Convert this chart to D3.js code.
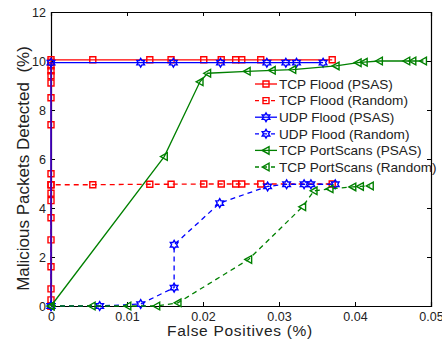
<!DOCTYPE html>
<html lang="en">
<head>
    <meta charset="UTF-8">
    <script src="https://d3js.org/d3.v7.min.js"></script>
    <title>PSAS vs Random</title>
    <style>
      body { margin: 0; background: #fff; }
      svg { display: block; font-family: 'Liberation Sans', Arial, sans-serif; }
    </style>
</head>
<body>
<div id="wrapper"></div>
<script>
   // axis ticks
   const xTicks = [0, 0.01, 0.02, 0.03, 0.04, 0.05];
   const yTicks = [0, 2, 4, 6, 8, 10, 12];

   // TCP Flood (PSAS)
   const tcpFloodPsasX = [0, 0, 0, 0, 0, 0, 0, 0, 0, 0, 0, 0, 0, 0, 0, 0, 0, 0, 0.0055, 0.0130, 0.0158, 0.0201, 0.0224, 0.0243, 0.0251, 0.0276, 0.0370];
   const tcpFloodPsasY = [0, 0.25, 0.7, 1.6, 2.7, 3.6, 4.3, 4.6, 4.95, 5.4, 7.4, 8.5, 9.1, 9.4, 9.6, 9.8, 9.95, 10.05, 10.05, 10.05, 10.05, 10.05, 10.05, 10.05, 10.05, 10.05, 10.05];
   // TCP Flood (Random)
   const tcpFloodRandX = [0, 0, 0.0055, 0.0130, 0.0158, 0.0201, 0.0224, 0.0243, 0.0251, 0.0276, 0.0370];
   const tcpFloodRandY = [0, 4.95, 4.95, 4.97, 4.97, 4.98, 4.98, 4.98, 4.98, 4.98, 4.98];
   // UDP Flood (PSAS)
   const udpFloodPsasX = [0, 0, 0.0118, 0.0161, 0.0223, 0.0284, 0.0309, 0.0323, 0.0358];
   const udpFloodPsasY = [0, 9.93, 9.93, 9.93, 9.93, 9.93, 9.93, 9.93, 9.93];
   // UDP Flood (Random)
   const udpFloodRandX = [0, 0.0064, 0.0118, 0.0162, 0.0162, 0.0222, 0.0285, 0.0310, 0.0333, 0.0342, 0.0374];
   const udpFloodRandY = [0, 0, 0.08, 0.75, 2.5, 4.2, 4.88, 4.97, 4.97, 4.97, 4.97];
   // TCP PortScans (PSAS)
   const tcpScanPsasX = [0, 0.0149, 0.0196, 0.0206, 0.0258, 0.0291, 0.0318, 0.0375, 0.0404, 0.0412, 0.0432, 0.0468, 0.0476, 0.0490];
   const tcpScanPsasY = [0, 6.1, 9.15, 9.5, 9.58, 9.62, 9.65, 9.8, 9.93, 9.95, 10.0, 10.0, 10.0, 10.0];
   // TCP PortScans (Random)
   const tcpScanRandX = [0, 0.0054, 0.0101, 0.0139, 0.0167, 0.0260, 0.0331, 0.0346, 0.0367, 0.0397, 0.0407, 0.0420];
   const tcpScanRandY = [0, 0, 0, 0, 0.13, 1.9, 4.05, 4.7, 4.78, 4.86, 4.88, 4.9];

   const seriesNames = ["TCP Flood (PSAS)", "TCP Flood (Random)", "UDP Flood (PSAS)", "UDP Flood (Random)", "TCP PortScans (PSAS)", "TCP PortScans (Random)"];

   // hexagram (6 point star) like matlab's 'h' marker
   const hexagram = {
      draw(context, size) {
         const r = Math.sqrt(size) * 0.62;
         const ri = r * 0.577;
         for (let i = 0; i < 12; i++) {
            const a = -Math.PI / 2 + i * Math.PI / 6;
            const rr = i % 2 === 0 ? r : ri;
            const px = rr * Math.cos(a), py = rr * Math.sin(a);
            if (i === 0) context.moveTo(px, py); else context.lineTo(px, py);
         }
         context.closePath();
      }
   };
   // left pointing triangle, matlab '<'
   const triLeft = {
      draw(context, size) {
         const r = Math.sqrt(size) * 0.6;
         context.moveTo(-r, 0);
         context.lineTo(r * 0.8, -r);
         context.lineTo(r * 0.8, r);
         context.closePath();
      }
   };

   const series = [
      {name: seriesNames[0], xs: tcpFloodPsasX, ys: tcpFloodPsasY, color: "#ff0000", dash: null, sym: d3.symbolSquare, size: 36},
      {name: seriesNames[1], xs: tcpFloodRandX, ys: tcpFloodRandY, color: "#ff0000", dash: "5,4", sym: d3.symbolSquare, size: 36},
      {name: seriesNames[2], xs: udpFloodPsasX, ys: udpFloodPsasY, color: "#0000ff", dash: null, sym: hexagram, size: 50},
      {name: seriesNames[3], xs: udpFloodRandX, ys: udpFloodRandY, color: "#0000ff", dash: "5,4", sym: hexagram, size: 50},
      {name: seriesNames[4], xs: tcpScanPsasX, ys: tcpScanPsasY, color: "#008000", dash: null, sym: triLeft, size: 40},
      {name: seriesNames[5], xs: tcpScanRandX, ys: tcpScanRandY, color: "#008000", dash: "5,4", sym: triLeft, size: 40}
   ];

   let dimensions = {
      width: 442,
      height: 343,
      margin: {left: 51, right: 11, top: 12, bottom: 37}
   };
   dimensions.boundedWidth = dimensions.width - dimensions.margin.left - dimensions.margin.right;
   dimensions.boundedHeight = dimensions.height - dimensions.margin.top - dimensions.margin.bottom;

   const wrapper = d3.select("#wrapper")
      .append("svg")
         .attr("width", dimensions.width)
         .attr("height", dimensions.height);

   const bounds = wrapper.append("g")
      .attr("transform", `translate(${dimensions.margin.left},${dimensions.margin.top})`);

   const xScale = d3.scaleLinear().domain([0, 0.05]).range([0, dimensions.boundedWidth]);
   const yScale = d3.scaleLinear().domain([0, 12]).range([dimensions.boundedHeight, 0]);

   // axes (matlab box with inward ticks on all four sides)
   const tickLen = 4;
   const xAxis = bounds.append("g")
      .attr("transform", `translate(0,${dimensions.boundedHeight})`)
      .call(d3.axisBottom(xScale).tickValues(xTicks).tickSize(-tickLen).tickPadding(6).tickFormat(d => d === 0 ? "0" : d3.format(".2f")(d)));
   const xAxisTop = bounds.append("g")
      .call(d3.axisTop(xScale).tickValues(xTicks).tickSize(-tickLen).tickFormat(""));
   const yAxis = bounds.append("g")
      .call(d3.axisLeft(yScale).tickValues(yTicks).tickSize(-tickLen).tickPadding(5));
   const yAxisRight = bounds.append("g")
      .attr("transform", `translate(${dimensions.boundedWidth},0)`)
      .call(d3.axisRight(yScale).tickValues(yTicks).tickSize(-tickLen).tickFormat(""));

   [xAxis, xAxisTop, yAxis, yAxisRight].forEach(a => {
      a.select(".domain").attr("stroke", "#000").attr("stroke-width", 1.2);
      a.selectAll(".tick line").attr("stroke", "#000");
      a.selectAll(".tick text").attr("fill", "#222").style("font-size", "12.5px");
   });

   // lines + markers
   const line = d3.line().x(d => xScale(d[0])).y(d => yScale(d[1]));
   series.forEach(s => {
      const pts = s.xs.map((x, i) => [x, s.ys[i]]);
      const g = bounds.append("g");
      g.append("path")
         .attr("d", line(pts))
         .attr("fill", "none")
         .attr("stroke", s.color)
         .attr("stroke-width", 1.3)
         .attr("stroke-dasharray", s.dash);
      g.selectAll("path.mk")
         .data(pts)
         .join("path")
            .attr("class", "mk")
            .attr("transform", d => `translate(${xScale(d[0])},${yScale(d[1])})`)
            .attr("d", d3.symbol().type(s.sym).size(s.size))
            .attr("fill", "none")
            .attr("stroke", s.color)
            .attr("stroke-width", 1.4);
   });

   // legend
   const legend = bounds.append("g")
      .attr("transform", `translate(${255 - dimensions.margin.left},${84 - dimensions.margin.top})`);
   series.forEach((s, i) => {
      const row = legend.append("g").attr("transform", `translate(0,${i * 16.6})`);
      row.append("line")
         .attr("x1", 0).attr("x2", 22)
         .attr("stroke", s.color)
         .attr("stroke-width", 1.3)
         .attr("stroke-dasharray", s.dash ? "4,4" : null);
      row.append("path")
         .attr("transform", "translate(11,0)")
         .attr("d", d3.symbol().type(s.sym).size(s.size))
         .attr("fill", "none")
         .attr("stroke", s.color)
         .attr("stroke-width", 1.4);
      row.append("text")
         .attr("x", 24)
         .attr("dy", "0.35em")
         .attr("fill", "#222")
         .style("font-size", "13.6px")
         .text(s.name);
   });

   // axis labels
   bounds.append("text")
      .attr("x", 189)
      .attr("y", dimensions.boundedHeight + 30)
      .attr("text-anchor", "middle")
      .attr("fill", "#222")
      .style("font-size", "15.5px")
      .style("letter-spacing", "0.7px")
      .text("False Positives (%)");
   bounds.append("text")
      .attr("transform", `translate(${-22},${dimensions.boundedHeight / 2 + 9.5}) rotate(-90)`)
      .attr("text-anchor", "middle")
      .attr("fill", "#222")
      .style("font-size", "17px")
      .style("white-space", "pre")
      .text("Malicious Packets Detected  (%)");
</script>
</body>
</html>
